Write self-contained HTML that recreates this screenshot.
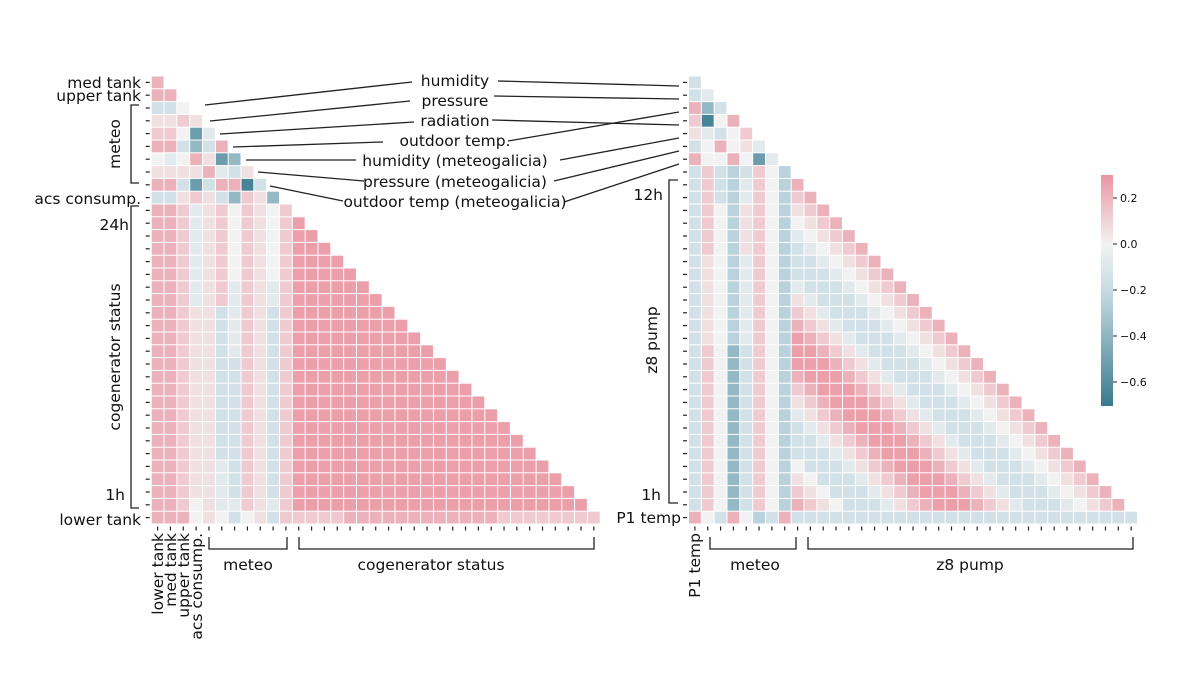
<!DOCTYPE html>
<html><head><meta charset="utf-8">
<style>
html,body{margin:0;padding:0;background:#fff;}
svg{display:block;font-family:"DejaVu Sans","Liberation Sans",sans-serif;}
</style></head>
<body>
<svg id="chart" width="1200" height="675" viewBox="0 0 1200 675" xmlns="http://www.w3.org/2000/svg">
<g id="left"></g>
<g id="right"></g>
<g id="anno" stroke="#222" stroke-width="1.3" fill="none"></g>
<g id="labels" font-size="15.5" fill="#111"></g>
<g id="cbar"></g>
</svg>
<script>
const levelCodes = ["A","a","b","c","0","x","y","z","Z","Q","R"];
const levelValues = [0.27,0.21,0.13,0.06,0,-0.07,-0.15,-0.25,-0.38,-0.52,-0.65];

const leftRows = [
"a","aa","yy0","ccbc","bb0Qx","aayZya","0x0acQZ","ccccaxyc","aayQyaaRy","yycbcyZbcZ",
"aabxcb0bc0b",
"aabxcb0bc0bA",
"aabxcb0bc0bAA",
"aabxcb0bc0bAAA",
"aabxcb0bc0bAAAA",
"aabxcb0bc0bAAAAA",
"aabxcbxbcxbAAAAAA",
"aabxcbxbcxbAAAAAAA",
"aabccyxbcybAAAAAAAA",
"aabccyxbcybAAAAAAAAA",
"aabccyxbcybAAAAAAAAAA",
"aabccyxbcybAAAAAAAAAAA",
"aabccyybcybAAAAAAAAAAAA",
"aabccyybcybAAAAAAAAAAAAA",
"aabccyybcybAAAAAAAAAAAAAA",
"aabccyybcybAAAAAAAAAAAAAAA",
"aabccyybcybAAAAAAAAAAAAAAAA",
"aabccyybcybAAAAAAAAAAAAAAAAA",
"aabccyybcybAAAAAAAAAAAAAAAAAA",
"aabccyybcybAAAAAAAAAAAAAAAAAAA",
"aabccxybcybAAAAAAAAAAAAAAAAAAAA",
"aabccxybcybAAAAAAAAAAAAAAAAAAAAA",
"aabccxybcybAAAAAAAAAAAAAAAAAAAAAA",
"aab0cxxbcxbAAAAAAAAAAAAAAAAAAAAAAA",
"aaa0c0y0cybbbbbaaaaaaaaaaaabbbbbbbb"
];

const rightRows = [
"y","yx","aZy","bR0a","cxy0b","y0a0cx","a00a0Qx","ybyzyb0z",
"ybyzxb0z"+"a",
"ybyzxb0z"+"ba",
"yb0zcb0z"+"cba",
"yb0zcb0z"+"0cba",
"yb0zcb0z"+"x0cba",
"yb0zcb0z"+"yx0cba",
"yc0zxb0z"+"yyx0cba",
"yc0zxb0z"+"yyyx0cba",
"yc0zxb0z"+"xyyyx0cba",
"yc0zxb0z"+"cxyyyx0cba",
"yc0zxb0z"+"bcxyyyx0cba",
"yc0zxb0z"+"abcxyyyx0cba",
"yc0zxb0z"+"Aabcxyyyx0cba",
"yb0Zyb0z"+"AAabcxyyyx0cba",
"yb0Zyb0z"+"AAAabcxyyyx0cba",
"yb0Zyb0z"+"aAAAabcxyyyx0cba",
"yb0Zyb0z"+"baAAAabcxyyyx0cba",
"yb0Zyb0z"+"cbaAAAabcxyyyx0cba",
"yb0Zyb0z"+"xcbaAAAabcxyyyx0cba",
"yb0Zyb0z"+"yxcbaAAAabcxyyyx0cba",
"yb0Zyb0z"+"yyxcbaAAAabcxyyyx0cba",
"yb0Zyb0z"+"yyyxcbaAAAabcxyyyx0cba",
"yb0Zyb0z"+"0yyyxcbaAAAabcxyyyx0cba",
"yb0Zyb0z"+"c0yyyxcbaAAAabcxyyyx0cba",
"yb0Zyb0z"+"bc0yyyxcbaAAAabcxyyyx0cba",
"yb0Zyb0z"+"abc0yyyxcbaAAAabcxyyyx0cba",
"a0ya0zya"+"yyyyyyyyyyyyyyyyyyyyyyyyyyy"
];

const cbarTicks = [0.2,0.0,-0.2,-0.4,-0.6];
const cbarTickLabels = ["0.2","0.0","\u22120.2","\u22120.4","\u22120.6"];

const NS="http://www.w3.org/2000/svg";
function mk(tag,attrs,parent){const e=document.createElementNS(NS,tag);for(const k in attrs)e.setAttribute(k,attrs[k]);parent.appendChild(e);return e;}

const POS=[234,150,163], MID=[242,242,242], NEG=[58,122,142], NEGMID=[196,218,226];
function lerp(a,b,t){return a.map((m,i)=>m+(b[i]-m)*t);}
function color(v){
  let c;
  if(v>=0){c=lerp(MID,POS,Math.min(v/0.3,1));}
  else{const t=Math.min(-v/0.7,1);c=t<0.3?lerp(MID,NEGMID,t/0.3):lerp(NEGMID,NEG,(t-0.3)/0.7);}
  return "rgb("+c.map(Math.round).join(",")+")";
}
const CW=12.83, Y0=76.5, RH=12.8;
function drawMatrix(g,rows,x0,prefix){
  rows.forEach((row,r)=>{
    for(let c=0;c<row.length;c++){
      const v=levelValues[levelCodes.indexOf(row[c])];
      const rect=mk("rect",{x:(x0+c*CW).toFixed(2),y:(Y0+r*RH).toFixed(2),width:(CW-1).toFixed(2),height:(RH-1).toFixed(2),fill:color(v)},g);
      
      
    }
    const t=mk("line",{x1:x0-6,x2:x0-2,y1:Y0+r*RH+RH/2-0.5,y2:Y0+r*RH+RH/2-0.5,stroke:"#222","stroke-width":1.2},g);
    
    
  });
  const n=rows[rows.length-1].length;
  for(let c=0;c<n;c++){
    const x=x0+c*CW+CW/2-0.5;
    const t=mk("line",{x1:x,x2:x,y1:Y0+rows.length*RH+2,y2:Y0+rows.length*RH+6,stroke:"#222","stroke-width":1.2},g);
    
    
  }
}
const LX0=151.7, RX0=689;
drawMatrix(document.getElementById("left"),leftRows,LX0,"left");
drawMatrix(document.getElementById("right"),rightRows,RX0,"right");

const cb=document.getElementById("cbar");
const defs=mk("defs",{},cb);
const grad=mk("linearGradient",{id:"cg",x1:0,y1:0,x2:0,y2:1},defs);
for(let i=0;i<=20;i++){const v=0.3-i*0.05;mk("stop",{offset:(i/20),"stop-color":color(v)},grad);}
const cbRect=mk("rect",{x:1101,y:175,width:12,height:231,fill:"url(#cg)"},cb);


function cbY(v){return 244-v*230;}
cbarTicks.forEach((v,i)=>{
  const y=cbY(v);
  mk("line",{x1:1113,x2:1117,y1:y,y2:y,stroke:"#222","stroke-width":1},cb);
  const t=mk("text",{x:1120,y:y+4,"font-size":11,fill:"#111"},cb);
  t.textContent=cbarTickLabels[i];
  
  
});
</script>
<script>
(function(){
const L=document.getElementById("labels"), A=document.getElementById("anno");
function txt(s,x,y,anchor,name,rot){
  const t=document.createElementNS("http://www.w3.org/2000/svg","text");
  t.setAttribute("x",x);t.setAttribute("y",y);t.setAttribute("text-anchor",anchor);
  if(rot)t.setAttribute("transform","rotate(-90 "+x+" "+y+")");
  t.textContent=s;
  
  
  L.appendChild(t);
}
function path(d,name){
  const p=document.createElementNS("http://www.w3.org/2000/svg","path");
  p.setAttribute("d",d);
  
  
  A.appendChild(p);
}
txt("med tank",141,88,"end","y-label-med-tank");
txt("upper tank",141,101,"end","y-label-upper-tank");
txt("acs consump.",141,204,"end","y-label-acs-consump");
txt("24h",129,230,"end","y-label-24h");
txt("1h",125,500,"end","y-label-1h");
txt("lower tank",141,525,"end","y-label-lower-tank");
path("M139 105 H131 V183 H139","meteo-y-bracket");
txt("meteo",120,144,"middle","meteo-y-title",true);
path("M139 206 H131 V508 H139","cog-y-bracket");
txt("cogenerator status",120,357,"middle","cog-y-title",true);
txt("lower tank",163,533,"end","x-label-lower-tank",true);
txt("med tank",176,533,"end","x-label-med-tank",true);
txt("upper tank",189,533,"end","x-label-upper-tank",true);
txt("acs consump.",202,533,"end","x-label-acs-consump",true);
path("M209 537 V549 H287 V537","meteo-x-bracket");
txt("meteo",248,570,"middle","meteo-x-title");
path("M299 537 V549 H594 V537","cog-x-bracket");
txt("cogenerator status",431,570,"middle","cog-x-title");
txt("12h",663,200,"end","y-label-12h");
txt("1h",661,500,"end","y-label-1h-right");
txt("P1 temp",681,523,"end","y-label-p1-temp");
path("M678 180 H669 V503 H678","z8-y-bracket");
txt("z8 pump",657,340,"middle","z8-y-title",true);
txt("P1 temp",700,533,"end","x-label-p1-temp",true);
path("M710 537 V549 H796 V537","meteo-x-bracket-right");
txt("meteo",755,570,"middle","meteo-x-title-right");
path("M808 537 V549 H1133 V537","z8-x-bracket");
txt("z8 pump",970,570,"middle","z8-x-title");
const names=["humidity","pressure","radiation","outdoor temp.","humidity (meteogalicia)","pressure (meteogalicia)","outdoor temp (meteogalicia)"];
const ty=[86,106,126,146,166,187,207];
names.forEach((n,i)=>txt(n,455,ty[i],"middle","annotation-"+i));
path("M205 105 L412 82","leader-humidity-left");
path("M210 121 L410 101","leader-pressure-left");
path("M220 134 L414 122","leader-radiation-left");
path("M233 147 L383 142","leader-outdoor-left");
path("M246 160 L356 160","leader-hum-mg-left");
path("M258 172 L364 181","leader-press-mg-left");
path("M270 186 L343 201","leader-out-mg-left");
path("M498 81 L679 86","leader-humidity-right");
path("M494 96 L679 99","leader-pressure-right");
path("M492 120 L679 125","leader-radiation-right");
path("M508 141 L679 112","leader-outdoor-right");
path("M560 160 L679 138","leader-hum-mg-right");
path("M554 181 L679 151","leader-press-mg-right");
path("M564 202 L679 164","leader-out-mg-right");
})();
</script>
</body></html>
